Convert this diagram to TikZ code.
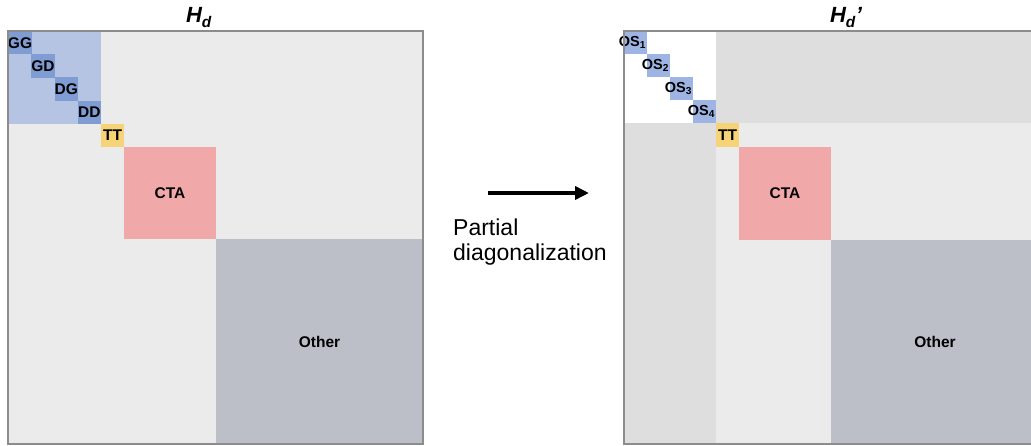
\documentclass[tikz,border=0pt]{standalone}
\usepackage{fontspec}
\setmainfont{Liberation Sans}
\usetikzlibrary{arrows.meta}
\definecolor{bgl}{HTML}{EBEBEB}
\definecolor{bgd}{HTML}{DEDEDE}
\definecolor{bluel}{HTML}{B4C4E2}
\definecolor{blued}{HTML}{7F9DD3}
\definecolor{blueos}{HTML}{9EB5E3}
\definecolor{ttc}{HTML}{F6D376}
\definecolor{ctac}{HTML}{F1A8A8}
\definecolor{othc}{HTML}{BCBFC8}
\definecolor{brd}{HTML}{8C8C8C}
\tikzset{
  blk/.style={draw=none, inner sep=0pt, outer sep=0pt, anchor=north west, font=\fontsize{15.5}{16}\selectfont\bfseries},
  mframe/.style={draw=brd, line width=1.6pt},
  ttl/.style={inner sep=0pt, anchor=base, font=\fontsize{22}{23}\selectfont\bfseries\itshape},
  captxt/.style={inner sep=0pt, anchor=base west, font=\fontsize{23}{25}\selectfont},
  oslbl/.style={font=\fontsize{14.5}{15}\selectfont\bfseries, inner sep=0pt, xshift=-3pt},
}
\begin{document}
\begin{tikzpicture}[x=1pt,y=-1pt]
\useasboundingbox (0,0) rectangle (1031,446);
\clip (0,0) rectangle (1031,446);
% ---------- left matrix ----------
\node[blk, fill=bgl, minimum width=415, minimum height=413] (Lbg) at (8,31) {};
\node[blk, fill=bluel, minimum width=93, minimum height=93] (Lblue) at (8,31) {};
\node[blk, fill=blued, minimum width=23.5, minimum height=23.5] (GG) at (8,31) {GG};
\node[blk, fill=blued, minimum width=23.5, minimum height=23.5] (GD) at (31.25,54.25) {GD};
\node[blk, fill=blued, minimum width=23.5, minimum height=23.5] (DG) at (54.5,77.5) {DG};
\node[blk, fill=blued, minimum width=23.25, minimum height=23.25] (DD) at (77.75,100.75) {DD};
\node[blk, fill=ttc, minimum width=23, minimum height=23] (TT) at (101,124) {TT};
\node[blk, fill=ctac, minimum width=92, minimum height=92] (CTA) at (124,147) {CTA};
\node[blk, fill=othc, minimum width=207, minimum height=205] (Oth) at (216,239) {Other};
\draw[mframe] (Lbg.north west) rectangle (Lbg.south east);
\node[ttl] (Ht) at (199,23) {H\textsubscript{d}};
% ---------- arrow ----------
\coordinate (A1) at (488,193);
\coordinate (A2) at (589,193);
\draw[line width=3.8pt, -{Triangle[length=14pt,width=13pt]}] (A1) -- (A2);
\node[captxt] (P1) at (453,236) {Partial};
\node[captxt] (P2) at (453,261) {diagonalization};
% ---------- right matrix ----------
\node[blk, fill=bgl, minimum width=415, minimum height=413] (Rbg) at (624,31) {};
\node[blk, fill=white, minimum width=92, minimum height=92] (Rw) at (624,31) {};
\node[blk, fill=bgd, minimum width=323, minimum height=92] (Rtr) at (716,31) {};
\node[blk, fill=bgd, minimum width=92, minimum height=321] (Rbl) at (624,123) {};
\node[blk, fill=blueos, minimum width=23, minimum height=23] (OS1) at (624,31) {};
\node[blk, fill=blueos, minimum width=23, minimum height=23] (OS2) at (647,54) {};
\node[blk, fill=blueos, minimum width=23, minimum height=23] (OS3) at (670,77) {};
\node[blk, fill=blueos, minimum width=23, minimum height=23] (OS4) at (693,100) {};
\foreach \n in {1,2,3,4}{
  \node[oslbl] (OSL\n) at (OS\n) {OS\textsubscript{\n}};
}
\node[blk, fill=ttc, minimum width=23, minimum height=24] (RTT) at (716,123) {TT};
\node[blk, fill=ctac, minimum width=92, minimum height=93] (RCTA) at (739,147) {CTA};
\node[blk, fill=othc, minimum width=208, minimum height=204] (ROth) at (831,240) {Other};
\draw[mframe] (Rbg.north west) rectangle (Rbg.south east);
\node[ttl] (Hp) at (846,23) {H\textsubscript{d}’};
\end{tikzpicture}
\end{document}
